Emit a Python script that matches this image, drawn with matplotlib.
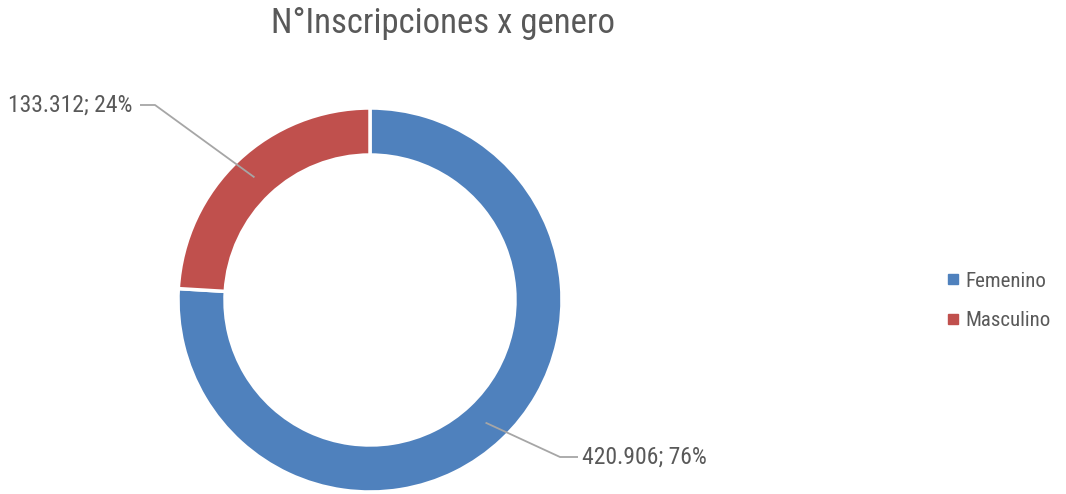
import numpy as np
import matplotlib.pyplot as plt
from matplotlib.lines import Line2D

categories = ["Femenino", "Masculino"]
values = [420906, 133312]
colors = ["#4F81BD", "#C0504D"]
title = "N°Inscripciones x genero"

plt.rcParams["font.family"] = ["Roboto Condensed", "DejaVu Sans"]
txt = "#595959"

W, H = 1066, 494
fig = plt.figure(figsize=(W / 100, H / 100), dpi=100)
ax = fig.add_axes([0, 0, 1, 1])

cx, cy = 370, H - 300
R, ring = 192, 47
wedges, _ = ax.pie(values, colors=colors, startangle=90, counterclock=False,
                   radius=R, center=(cx, cy),
                   wedgeprops=dict(width=ring, edgecolor="white", linewidth=2.5))
ax.set_xlim(0, W)
ax.set_ylim(0, H)
ax.set_aspect("equal")
ax.axis("off")

total = sum(values)
# label layout: elbow point, end of horizontal stub, text side
label_pos = [((560, H - 457), (578, H - 457), "left"),
             ((155, H - 105), (140, H - 105), "right")]
for w, v, (elbow, end, ha) in zip(wedges, values, label_pos):
    mid = np.deg2rad((w.theta1 + w.theta2) / 2)
    r = R - ring / 2
    anchor = (cx + r * np.cos(mid), cy + r * np.sin(mid))
    ax.plot([anchor[0], elbow[0], end[0]], [anchor[1], elbow[1], end[1]],
            color="#A6A6A6", lw=1.3, solid_capstyle="butt")
    lab = f"{v:,}".replace(",", ".") + f"; {round(v / total * 100)}%"
    dx = 4 if ha == "left" else -8
    ax.text(end[0] + dx, end[1], lab, ha=ha, va="center", fontsize=17, color=txt)

fig.text(443 / W, 1 - 24 / H, title, ha="center", va="center", fontsize=25, color=txt)

handles = [Line2D([], [], marker="s", ls="", color=c, markersize=7) for c in colors]
fig.legend(handles, categories, loc="center left", bbox_to_anchor=(924 / W, 1 - 301 / H),
           frameon=False, fontsize=15, labelcolor=txt, handletextpad=0.1,
           labelspacing=1.0, handlelength=1.0)

fig.savefig("out.png", dpi=100)
